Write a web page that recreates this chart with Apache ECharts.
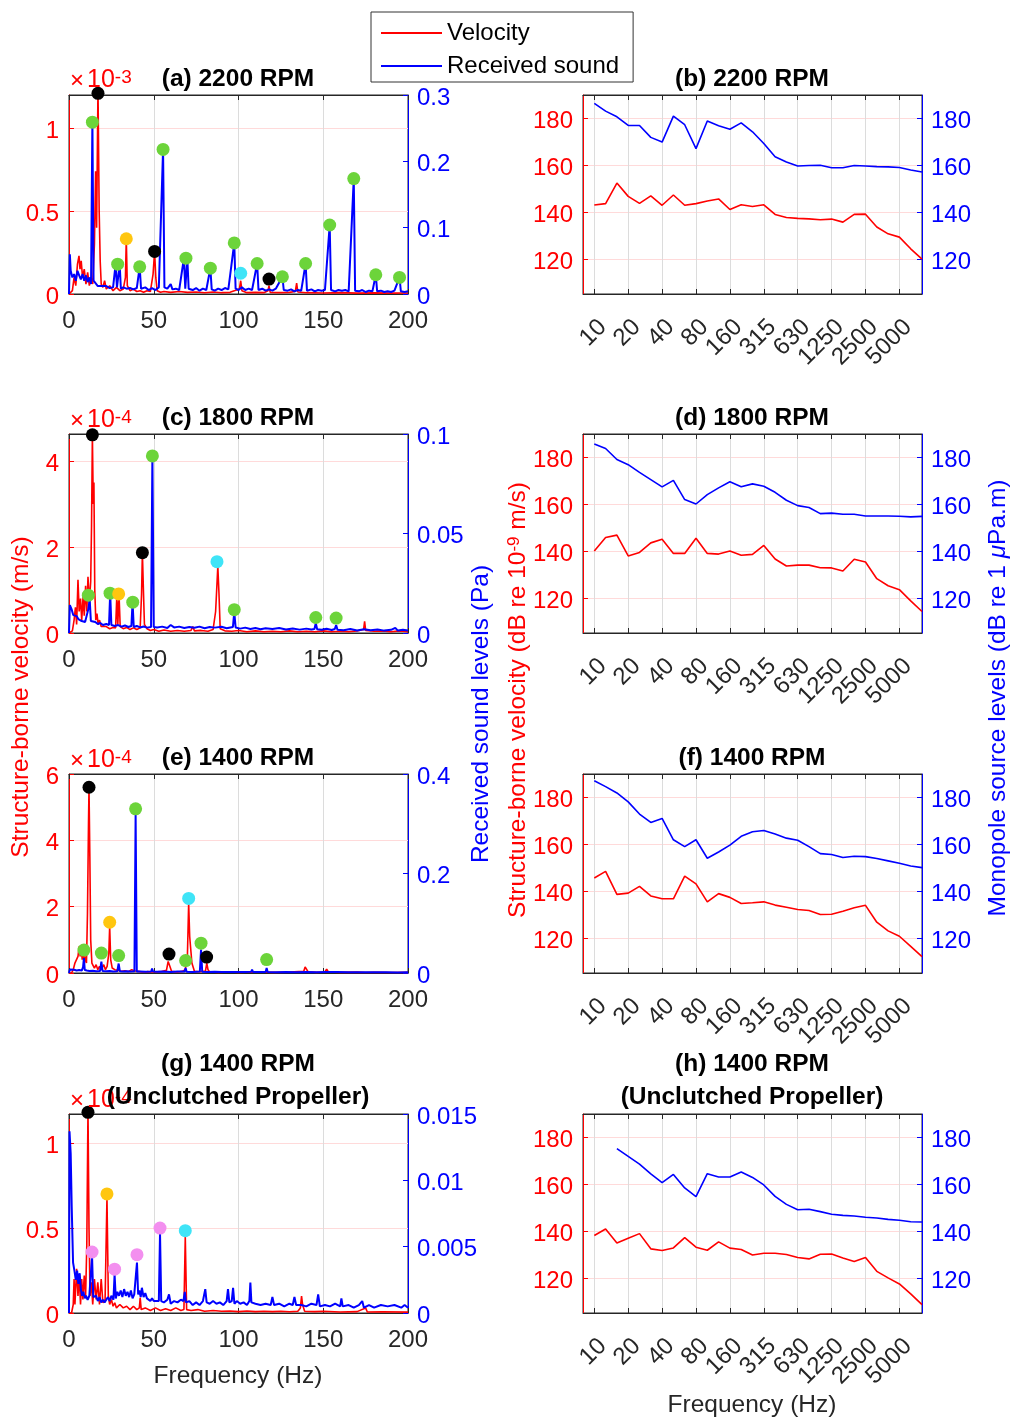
<!DOCTYPE html>
<html><head><meta charset="utf-8">
<script src="https://cdn.jsdelivr.net/npm/echarts@6/dist/echarts.min.js"></script>
<style>html,body{margin:0;padding:0;background:#fff}#c{width:1012px;height:1420px}</style>
</head><body><div id="c"></div>
<script>
// ---------------- DATA ----------------
// Third-octave band centre frequencies (first entry is the axis pad band)
const bandLabels = ['8','10','12.5','16','20','25','31.5','40','50','63','80','100','125','160','200','250','315','400','500','630','800','1000','1250','1600','2000','2500','3150','4000','5000','6300','8000'];
const dbTicks = [120,140,160,180];
const dbMin = 105, dbMax = 190;
const freqTicks = [0,50,100,150,200];

// Band levels (dB), 10 Hz .. 8000 Hz
const bVel = [143,143.6,152.4,146.7,143.7,146.9,142.9,147.3,142.9,143.6,144.7,145.6,141.1,143.1,142.4,143.1,139,137.7,137.3,137.1,136.7,137,135.7,139,139.1,133.6,130.7,129.3,124.3,119.9];
const bSnd = [186.4,183.1,180.7,177,177,171.9,169.9,181,177.3,167.1,178.9,176.9,175.4,178.1,174.3,169.3,163.6,161.4,159.7,159.9,160,158.9,158.9,159.9,159.7,159.4,159.3,159,158,157.1];
const dVel = [140,145.8,146.8,137.9,139.4,143.5,145,139,139,145.5,139,138.7,140,138.2,138.6,142.4,136.6,133.6,134,134,132.9,132.8,131.5,136.5,135.3,128.2,125.2,123.5,118.7,114.2];
const dSnd = [185.7,183.8,179.1,176.9,173.6,170.5,167.4,170.2,162,160.1,164.1,167,169.6,167.5,168.7,167.7,165.1,161.7,159.4,158.6,156,156.2,155.7,155.7,155,155,155,154.9,154.6,154.8];
const fVel = [145.6,148.4,138.6,139.1,142,137.9,136.7,136.7,146.4,143.1,135.4,138.9,137.3,134.7,135,135.4,134,133.1,132.1,131.7,130,130.1,131.4,132.9,133.9,126.7,123,120.7,116.4,112];
const fSnd = [187.1,184.6,181.9,178.1,172.9,169.3,171,161.9,159,161.9,154,156.7,159.6,163.4,165.3,165.9,164.4,162.6,161.7,159,156,155.6,154.3,154.9,154.7,153.9,152.9,151.9,150.7,150];
const hVel = [138.1,140.9,134.9,136.9,138.9,132.4,131.7,132.8,137.2,133.1,131.8,135.4,132.7,132.1,129.8,130.5,130.5,130,128.7,128.1,130.1,130.2,128.5,127,128.7,122.8,120,117.4,113.2,108.6];
const hSnd = [null,null,175.2,171.9,168.6,164.4,160.7,164.2,158.4,154.7,164.5,163.1,163.1,165.2,162.9,159.7,154.8,151.4,149.1,149.3,148.3,147.2,146.7,146.4,145.9,145.6,145,144.6,144,143.9];

// (a) 2200 RPM spectra: [Hz, velocity x1e-3 m/s], [Hz, Pa]
const aVelTicks = [0,0.5,1], aVelMax = 1.2;
const aSndTicks = [0,0.1,0.2,0.3], aSndMax = 0.3;
const aVel = [[0,0],[1,0],[2,0.02],[3,0.1],[4,0.05],[5,0.18],[5.9,0.23],[6.5,0.15],[7.2,0.2],[8,0.1],[9,0.15],[10,0.06],[11,0.13],[12,0.05],[13,0.1],[14,0.06],[15,0.3],[15.7,0.74],[16.3,0.4],[17.1,1.25],[17.8,0.5],[18.4,0.2],[19,0.06],[20,0.04],[21,0.08],[22,0.03],[24,0.05],[26,0.02],[28,0.04],[30,0.02],[32,0.03],[33.3,0.1],[33.8,0.333],[34.4,0.05],[36,0.02],[38,0.03],[40,0.015],[42,0.02],[44,0.01],[46,0.02],[48,0.015],[49.6,0.12],[50.5,0.257],[51.2,0.1],[52,0.02],[54,0.01],[56,0.015],[60,0.01],[65,0.015],[70,0.01],[75,0.012],[80,0.008],[85,0.012],[90,0.008],[95,0.01],[100.5,0.03],[101.3,0.08],[102,0.02],[105,0.008],[110,0.01],[115,0.008],[117.4,0.02],[118,0.05],[118.7,0.01],[125,0.008],[130,0.01],[133.5,0.015],[134.3,0.065],[135,0.012],[140,0.008],[150,0.006],[160,0.008],[170,0.005],[180,0.007],[190,0.005],[200,0.006]];
const aSnd = [[0,0],[0.5,0.06],[1,0.035],[2,0.025],[3,0.03],[4,0.02],[5,0.035],[6,0.028],[7,0.022],[8,0.03],[9,0.02],[10,0.028],[11,0.018],[12,0.025],[13,0.015],[13.8,0.262],[14.5,0.02],[15.5,0.018],[17,0.012],[18,0.015],[19,0.012],[20,0.01],[22,0.012],[24,0.009],[26,0.01],[27.5,0.045],[28.3,0.01],[29.9,0.045],[30.6,0.008],[32,0.01],[34,0.008],[36,0.009],[38,0.007],[40,0.009],[41.7,0.041],[42.5,0.008],[45,0.01],[47,0.006],[49,0.009],[51,0.006],[53,0.01],[55.5,0.218],[56.3,0.01],[58,0.008],[60,0.015],[61,0.007],[63,0.008],[65,0.006],[67.8,0.054],[68.6,0.008],[69.8,0.054],[70.6,0.008],[73,0.006],[75,0.009],[77,0.005],[79,0.008],[81,0.006],[83.4,0.039],[84.2,0.007],[86,0.005],[88,0.008],[90,0.006],[92,0.009],[94,0.007],[97.5,0.077],[98.3,0.008],[100,0.006],[102,0.01],[104,0.006],[106,0.008],[108,0.006],[111,0.046],[111.8,0.006],[114,0.008],[116,0.005],[118,0.007],[120,0.005],[122,0.008],[125.9,0.026],[126.7,0.006],[129,0.005],[131,0.007],[133,0.004],[135,0.006],[137,0.005],[139.6,0.046],[140.4,0.005],[143,0.007],[145,0.004],[147,0.006],[149,0.005],[151,0.006],[153.8,0.104],[154.6,0.006],[157,0.004],[159,0.006],[161,0.005],[163,0.006],[165,0.004],[168,0.174],[168.8,0.005],[171,0.004],[173,0.006],[175,0.003],[177,0.005],[179,0.004],[181,0.029],[181.8,0.004],[184,0.005],[186,0.003],[188,0.004],[190,0.003],[192,0.005],[195,0.025],[195.8,0.004],[198,0.003],[200,0.004]];
const aGreen = [[13.8,0.259],[28.7,0.045],[41.7,0.041],[55.5,0.218],[69,0.054],[83.4,0.039],[97.5,0.077],[111,0.046],[125.9,0.026],[139.6,0.046],[153.8,0.104],[168,0.174],[181,0.029],[195,0.025]];
const aBlack = [[17.1,1.21],[50.5,0.257],[118,0.09]];
const aYellow = [[33.8,0.333]];
const aCyan = [[101.3,0.125]];

// (c) 1800 RPM: velocity x1e-4 m/s
const cVelTicks = [0,2,4], cVelMax = 4.63;
const cSndTicks = [0,0.05,0.1], cSndMax = 0.1;
const cVel = [[0,0],[1,0],[2,0.05],[3,0.3],[3.8,0.6],[4.5,0.2],[5.3,1.24],[6,0.5],[6.8,0.8],[7.5,0.3],[8.3,0.85],[9,0.4],[9.8,1.1],[10.5,0.5],[11.2,1.31],[12,0.7],[12.8,1.2],[13.3,2.5],[13.8,4.61],[14.3,3.0],[14.7,3.5],[15.2,1.0],[15.8,0.3],[16.5,0.45],[17.2,0.2],[18,0.3],[19,0.15],[20,0.12],[22,0.15],[24,0.1],[26,0.13],[27.5,0.12],[28.2,0.85],[28.8,0.2],[29.5,0.91],[30.2,0.15],[32,0.1],[34,0.13],[36,0.08],[38,0.12],[40,0.08],[42,0.12],[42.8,0.9],[43.3,1.87],[43.9,1.0],[44.5,0.2],[46,0.1],[48,0.06],[50,0.08],[53,0.04],[56,0.07],[60,0.04],[64,0.06],[68,0.04],[72,0.06],[73,0.15],[74,0.05],[78,0.06],[82,0.04],[85,0.08],[86.5,0.5],[87,0.9],[87.8,1.55],[88.5,0.9],[89.2,0.1],[92,0.05],[96,0.04],[100,0.06],[105,0.03],[110,0.05],[115,0.03],[120,0.04],[125,0.03],[130,0.05],[135,0.03],[140,0.04],[145,0.03],[150,0.05],[155,0.03],[160,0.04],[165,0.03],[170,0.05],[173.8,0.08],[174.4,0.27],[175,0.06],[180,0.04],[185,0.05],[190,0.03],[195,0.05],[200,0.03]];
const cSnd = [[0,0],[0.5,0.014],[1.5,0.012],[2.5,0.009],[3.5,0.008],[4.5,0.0085],[5.5,0.007],[6.5,0.0075],[7.5,0.006],[8.5,0.0065],[9.5,0.0055],[10.5,0.006],[11.4,0.012],[12.2,0.017],[12.9,0.006],[14,0.005],[15.5,0.0055],[17,0.0045],[18.5,0.005],[20,0.004],[22,0.0045],[23.6,0.004],[24.3,0.02],[25,0.004],[27,0.0035],[29,0.004],[31,0.0032],[33,0.0038],[35,0.003],[36.8,0.0035],[37.5,0.0155],[38.2,0.003],[40,0.0035],[42,0.0028],[44,0.0033],[46,0.0027],[48.4,0.003],[49.2,0.089],[50,0.003],[52,0.0028],[55,0.0032],[58,0.0025],[60,0.004],[62,0.0028],[65,0.0032],[68,0.0025],[71,0.003],[74,0.0026],[77,0.0032],[80,0.0024],[83,0.003],[86,0.0027],[90,0.0031],[93,0.0024],[96.7,0.003],[97.5,0.0105],[98.3,0.0028],[101,0.0022],[104,0.0027],[107,0.002],[110,0.0025],[113,0.0019],[116,0.0024],[120,0.002],[124,0.0025],[128,0.0018],[132,0.0023],[136,0.0017],[140,0.0022],[143,0.0018],[144.8,0.002],[145.6,0.005],[146.4,0.0019],[149,0.0016],[152,0.0021],[155,0.0015],[156.8,0.002],[157.6,0.004],[158.4,0.0016],[162,0.0014],[166,0.002],[170,0.0013],[174,0.0019],[178,0.0014],[182,0.0018],[186,0.0012],[190,0.0016],[192.5,0.0026],[194,0.0012],[197,0.0016],[200,0.0012]];
const cGreen = [[11.4,0.019],[24.2,0.02],[37.6,0.0155],[49.2,0.089],[97.5,0.0117],[145.6,0.0078],[157.6,0.0075]];
const cBlack = [[13.8,4.61],[43.3,1.87]];
const cYellow = [[29.3,0.91]];
const cCyan = [[87.3,1.66]];

// (e) 1400 RPM: velocity x1e-4 m/s
const eVelTicks = [0,2,4,6], eVelMax = 6;
const eSndTicks = [0,0.2,0.4], eSndMax = 0.4;
const eVel = [[0,0],[1.5,0],[2.5,0.1],[3.5,0.3],[4.5,0.25],[5.3,0.5],[6,0.8],[6.6,0.5],[7.2,0.75],[7.8,0.4],[8.4,0.65],[9,0.3],[9.6,0.5],[10.3,0.3],[10.9,1.8],[11.5,4.5],[11.8,5.6],[12.3,3.5],[12.8,1.0],[13.5,0.3],[14.2,0.35],[15,0.15],[16,0.25],[17,0.1],[18,0.2],[19,0.1],[20.5,0.25],[21.5,0.1],[22.5,0.2],[23.5,0.6],[24,1.4],[24.6,0.4],[25.5,0.15],[27,0.1],[29,0.08],[31,0.05],[33,0.07],[35,0.04],[37,0.1],[39,0.06],[41,0.05],[43,0.03],[46,0.04],[50,0.03],[54,0.04],[57.5,0.08],[58.5,0.35],[59.5,0.2],[60.5,0.05],[64,0.03],[67,0.05],[68.5,0.1],[69.8,0.4],[70.6,2.1],[71.2,1.1],[71.8,1.05],[72.5,0.3],[74,0.05],[77,0.04],[80.5,0.06],[81.3,0.3],[82,0.1],[83,0.03],[88,0.02],[95,0.03],[100,0.02],[110,0.03],[120,0.02],[130,0.025],[138.5,0.05],[139.3,0.18],[140,0.15],[141,0.04],[146,0.02],[151,0.03],[152,0.12],[153,0.03],[160,0.02],[170,0.025],[175,0.015],[180,0.02],[190,0.015],[200,0.02]];
const eSnd = [[0,0],[0.5,0.007],[1.5,0.006],[3,0.0065],[4.5,0.005],[6,0.006],[7.5,0.005],[8.3,0.012],[8.8,0.03],[9.3,0.006],[10.5,0.005],[12,0.004],[14,0.0045],[16,0.0035],[18.3,0.004],[19.1,0.023],[19.8,0.004],[22,0.0035],[24,0.004],[26,0.003],[28.5,0.0035],[29.3,0.019],[30,0.0035],[32,0.003],[34,0.0035],[36,0.003],[38.6,0.0035],[39.3,0.318],[40,0.003],[42,0.003],[45,0.0025],[48.5,0.003],[49,0.009],[49.6,0.003],[52,0.0025],[56,0.003],[60,0.0022],[64,0.0028],[68.2,0.003],[68.8,0.01],[69.4,0.0025],[73,0.0022],[77.2,0.003],[77.9,0.047],[78.6,0.0025],[82,0.002],[86,0.0025],[90,0.0018],[95,0.0022],[100,0.0018],[104,0.0022],[107.5,0.0025],[108,0.007],[108.6,0.002],[112,0.0018],[116,0.002],[116.6,0.01],[117.2,0.0018],[122,0.0016],[128,0.002],[134,0.0015],[140,0.0018],[146,0.0014],[152,0.0018],[158,0.002],[158.5,0.0045],[159,0.0015],[165,0.0014],[172,0.0017],[180,0.0013],[187,0.0016],[194,0.0012],[200,0.0014]];
const eGreen = [[8.8,0.046],[19.1,0.04],[29.3,0.035],[39.3,0.33],[68.8,0.025],[77.9,0.06],[116.6,0.027]];
const eBlack = [[11.8,5.6],[59,0.57],[81.2,0.48]];
const eYellow = [[24,1.53]];
const eCyan = [[70.6,2.25]];

// (g) 1400 RPM unclutched: velocity x1e-4 m/s
const gVelTicks = [0,0.5,1], gVelMax = 1.17;
const gSndTicks = [0,0.005,0.01,0.015], gSndMax = 0.015;
const gVel = [[0,0],[1.5,0],[2.5,0.05],[3,0.2],[3.5,0.05],[4.5,0.26],[5.3,0.1],[6,0.22],[6.8,0.05],[7.5,0.2],[8.2,0.08],[9,0.22],[9.8,0.1],[10.5,0.4],[11.2,1.2],[11.8,0.5],[12.4,0.1],[13.2,0.18],[14,0.05],[15,0.2],[16,0.08],[17,0.18],[18,0.05],[19,0.2],[20,0.06],[21.3,0.08],[22.4,0.68],[23.2,0.1],[24,0.05],[25,0.08],[26,0.04],[27,0.06],[28,0.03],[30,0.05],[32,0.03],[34,0.04],[36,0.02],[38,0.04],[40,0.02],[41.5,0.03],[42,0.09],[42.6,0.02],[45,0.03],[48,0.015],[51,0.03],[54,0.015],[57,0.025],[60,0.015],[63,0.03],[66,0.015],[67.8,0.02],[68.6,0.45],[69.4,0.02],[72,0.015],[76,0.02],[80,0.01],[85,0.015],[90,0.01],[95,0.012],[100,0.008],[105,0.012],[110,0.008],[115,0.01],[120,0.008],[125,0.01],[130,0.007],[135,0.01],[136.5,0.03],[137.2,0.1],[137.8,0.05],[139,0.01],[145,0.008],[150,0.01],[160,0.006],[170,0.008],[175,0.03],[176,0.006],[185,0.007],[200,0.005]];
const gSnd = [[0,0],[0.3,0.0137],[1,0.012],[1.6,0.008],[2.4,0.0038],[3.2,0.0032],[4,0.0025],[4.8,0.0032],[5.5,0.0022],[6.3,0.003],[7,0.0018],[7.7,0.0013],[8.5,0.0016],[9.3,0.0011],[10,0.0013],[11,0.001],[12,0.0013],[12.9,0.0012],[13.6,0.0043],[14.3,0.0012],[15.2,0.0011],[16,0.0013],[17,0.0009],[18,0.0012],[19,0.0008],[20,0.001],[21,0.0008],[22,0.0009],[23,0.0012],[24,0.0009],[25,0.0013],[26.2,0.001],[26.9,0.0029],[27.6,0.0011],[28.5,0.0016],[29.5,0.0013],[30.5,0.0017],[31.5,0.0012],[32.5,0.0018],[33.5,0.0013],[34.5,0.0016],[35.5,0.0012],[36.5,0.0017],[37.5,0.0011],[38.5,0.0014],[39.4,0.0013],[40.1,0.0038],[40.8,0.0014],[41.5,0.0017],[42.3,0.0012],[43,0.0019],[44,0.0012],[45,0.0015],[46,0.0011],[47,0.0012],[48,0.0009],[49,0.0011],[50,0.0009],[51,0.001],[53,0.0009],[53.7,0.006],[54.4,0.0009],[56,0.0008],[58,0.001],[59,0.0014],[60,0.0007],[62,0.0009],[64,0.0008],[66,0.001],[67.5,0.0009],[68.3,0.0016],[69,0.0008],[71,0.0009],[73,0.0006],[75,0.0008],[77,0.0006],[79,0.0009],[80.4,0.0018],[81.2,0.0008],[83,0.0007],[85,0.0009],[87,0.0007],[89,0.0008],[91,0.0006],[93,0.0009],[93.8,0.0018],[94.6,0.0008],[96,0.0009],[96.8,0.0019],[97.6,0.0007],[99,0.0009],[101,0.0007],[103,0.0008],[105,0.0006],[106.4,0.0009],[107,0.0023],[107.6,0.0008],[110,0.0007],[113,0.0006],[116,0.0007],[119,0.0006],[120,0.0012],[121,0.0006],[124,0.0007],[127,0.0005],[130,0.0007],[132,0.0006],[133,0.0012],[134,0.0006],[137,0.0006],[140,0.0005],[143,0.0007],[146,0.0006],[147,0.0014],[148,0.0005],[151,0.0006],[154,0.0005],[157,0.0007],[160,0.0005],[160.7,0.0011],[161.5,0.0005],[165,0.0006],[168,0.0004],[171,0.0006],[173,0.0009],[174,0.0004],[177,0.0006],[180,0.0004],[184,0.0006],[188,0.0005],[192,0.0006],[196,0.0004],[198,0.0006],[200,0.0004]];
const gPink = [[13.6,0.0046],[26.9,0.0033],[40.1,0.0044],[53.7,0.0064]];
const gBlack = [[11.2,1.18]];
const gYellow = [[22.4,0.7]];
const gCyan = [[68.6,0.484]];

// ---------------- CHART ----------------
const FONT = '"Liberation Sans", Arial, Helvetica, sans-serif';
const RED = '#FF0000', BLUE = '#0000FF', AX = '#262626';
const GREEN = '#6CD43A', YELLOW = '#FFC60F', CYAN = '#3FE4F7', PINK = '#F38FEF', BLACK = '#000000';
const LEFT_X = 69, RIGHT_X = 583, PW = 339, PH = 199, TOPS = [95, 434, 774, 1114];
const TICK_FS = 24;

const grid = [], xAxis = [], yAxis = [], series = [];

function yAx(gi, color, min, max, ticks, split, pos) {
  return {
    gridIndex: gi, type: 'value', position: pos, min: min, max: max,
    axisLine: {show: true, onZero: false, lineStyle: {color: color, width: 1}},
    axisTick: {show: true, inside: true, length: 5, customValues: ticks, lineStyle: {color: color}},
    axisLabel: {show: true, color: color, fontSize: TICK_FS, fontFamily: FONT, margin: pos === 'left' ? 10 : 9, customValues: ticks,
      formatter: function (v) { return '{v|' + v + '}'; },
      rich: {v: {color: color, fontSize: TICK_FS, fontFamily: FONT, padding: [6, 0, 0, 0]}}},
    splitLine: {show: split, customValues: ticks, lineStyle: {color: '#FFDADA', width: 1}}
  };
}
function addGrid(x, row) {
  grid.push({left: x, top: TOPS[row], width: PW, height: PH, show: true, borderColor: AX, borderWidth: 1, backgroundColor: 'rgba(0,0,0,0)'});
  return grid.length - 1;
}
function addLeft(row, vel, snd, velMax, velTicks, sndMax, sndTicks, dots) {
  const gi = addGrid(LEFT_X, row);
  const xi = xAxis.length;
  xAxis.push({gridIndex: gi, type: 'value', position: 'bottom', min: 0, max: 200, interval: 50,
    axisLine: {show: true, onZero: false, lineStyle: {color: AX}},
    axisTick: {show: true, inside: true, length: 5, customValues: freqTicks, lineStyle: {color: AX}},
    axisLabel: {color: AX, fontSize: TICK_FS, fontFamily: FONT, margin: 15, customValues: freqTicks},
    splitLine: {show: true, customValues: freqTicks, lineStyle: {color: '#DCDCDC'}}});
  xAxis.push({gridIndex: gi, type: 'value', position: 'top', min: 0, max: 200, interval: 50,
    axisLine: {show: true, onZero: false, lineStyle: {color: AX}},
    axisTick: {show: true, inside: true, length: 5, customValues: freqTicks, lineStyle: {color: AX}},
    axisLabel: {show: false}, splitLine: {show: false}});
  const yi = yAxis.length;
  yAxis.push(yAx(gi, RED, 0, velMax, velTicks, true, 'left'));
  yAxis.push(yAx(gi, BLUE, 0, sndMax, sndTicks, false, 'right'));
  series.push({type: 'line', name: 'Velocity', xAxisIndex: xi, yAxisIndex: yi, data: vel, symbol: 'none', clip: true,
    lineStyle: {color: RED, width: 1.6}, itemStyle: {color: RED}, z: 2});
  series.push({type: 'line', name: 'Received sound', xAxisIndex: xi, yAxisIndex: yi + 1, data: snd, symbol: 'none', clip: true,
    lineStyle: {color: BLUE, width: 2}, itemStyle: {color: BLUE}, z: 3});
  dots.forEach(function (d) {
    series.push({type: 'scatter', name: 'peak', xAxisIndex: xi, yAxisIndex: d.snd ? yi + 1 : yi, data: d.data,
      symbolSize: 13, clip: false, itemStyle: {color: d.color, opacity: 1}, z: 5});
  });
}
const showBand = function (i) { return i % 3 === 1; };
function addRight(row, vel, snd) {
  const gi = addGrid(RIGHT_X, row);
  const xi = xAxis.length;
  xAxis.push({gridIndex: gi, type: 'category', position: 'bottom', data: bandLabels, boundaryGap: false,
    axisLine: {show: true, onZero: false, lineStyle: {color: AX}},
    axisTick: {show: true, inside: true, length: 5, interval: showBand, lineStyle: {color: AX}},
    axisLabel: {interval: showBand, rotate: 45, align: 'right', verticalAlign: 'top', color: AX, fontSize: TICK_FS, fontFamily: FONT, margin: 21},
    splitLine: {show: true, interval: showBand, lineStyle: {color: '#DCDCDC'}}});
  xAxis.push({gridIndex: gi, type: 'category', position: 'top', data: bandLabels, boundaryGap: false,
    axisLine: {show: true, onZero: false, lineStyle: {color: AX}},
    axisTick: {show: true, inside: true, length: 5, interval: showBand, lineStyle: {color: AX}},
    axisLabel: {show: false}, splitLine: {show: false}});
  const yi = yAxis.length;
  yAxis.push(yAx(gi, RED, dbMin, dbMax, dbTicks, true, 'left'));
  yAxis.push(yAx(gi, BLUE, dbMin, dbMax, dbTicks, false, 'right'));
  series.push({type: 'line', name: 'Velocity', xAxisIndex: xi, yAxisIndex: yi, data: [null].concat(vel), symbol: 'none',
    lineStyle: {color: RED, width: 1.6}, itemStyle: {color: RED}, z: 2});
  series.push({type: 'line', name: 'Received sound', xAxisIndex: xi, yAxisIndex: yi + 1, data: [null].concat(snd), symbol: 'none',
    lineStyle: {color: BLUE, width: 1.6}, itemStyle: {color: BLUE}, z: 3});
}

addLeft(0, aVel, aSnd, aVelMax, aVelTicks, aSndMax, aSndTicks, [
  {data: aGreen, color: GREEN, snd: true}, {data: aBlack, color: BLACK}, {data: aYellow, color: YELLOW}, {data: aCyan, color: CYAN}]);
addRight(0, bVel, bSnd);
addLeft(1, cVel, cSnd, cVelMax, cVelTicks, cSndMax, cSndTicks, [
  {data: cGreen, color: GREEN, snd: true}, {data: cBlack, color: BLACK}, {data: cYellow, color: YELLOW}, {data: cCyan, color: CYAN}]);
addRight(1, dVel, dSnd);
addLeft(2, eVel, eSnd, eVelMax, eVelTicks, eSndMax, eSndTicks, [
  {data: eGreen, color: GREEN, snd: true}, {data: eBlack, color: BLACK}, {data: eYellow, color: YELLOW}, {data: eCyan, color: CYAN}]);
addRight(2, fVel, fSnd);
addLeft(3, gVel, gSnd, gVelMax, gVelTicks, gSndMax, gSndTicks, [
  {data: gPink, color: PINK, snd: true}, {data: gBlack, color: BLACK}, {data: gYellow, color: YELLOW}, {data: gCyan, color: CYAN}]);
addRight(3, hVel, hSnd);

// ---- text overlays ----
const graphic = [];
function txt(x, y, text, opts) {
  graphic.push(Object.assign({type: 'text', x: x, y: y, z: 100, style: Object.assign({
    text: text, fill: '#000', fontSize: 24.5, fontFamily: FONT, align: 'center', verticalAlign: 'middle'}, opts || {})}));
}
const titles = [
  ['(a) 2200 RPM', 238, 79], ['(b) 2200 RPM', 752, 79],
  ['(c) 1800 RPM', 238, 418], ['(d) 1800 RPM', 752, 418],
  ['(e) 1400 RPM', 238, 758], ['(f) 1400 RPM', 752, 758],
  ['(g) 1400 RPM', 238, 1064], ['(Unclutched Propeller)', 238, 1097],
  ['(h) 1400 RPM', 752, 1064], ['(Unclutched Propeller)', 752, 1097]
];
titles.forEach(function (t) { txt(t[1], t[2], t[0], {fontWeight: 'bold'}); });

// exponent labels
[['-3', 93], ['-4', 433], ['-4', 773], ['-4', 1113]].forEach(function (e) {
  graphic.push({type: 'text', x: 70, y: e[1], z: 90, style: {text: '{x|×}{a|10}{b|' + e[0] + '}', align: 'left', verticalAlign: 'bottom',
    rich: {x: {fontSize: 24, fontFamily: FONT, fill: RED, verticalAlign: 'bottom', padding: [0, 3, 0, 0]},
           a: {fontSize: 25, fontFamily: FONT, fill: RED, verticalAlign: 'bottom'},
           b: {fontSize: 19, fontFamily: FONT, fill: RED, verticalAlign: 'top'}}}});
});

// axis names
function vtxt(x, y, text, color, rich) {
  graphic.push({type: 'text', x: x, y: y, rotation: Math.PI / 2, z: 100, style: {text: text, fill: color, fontSize: 24.5, fontFamily: FONT,
    align: 'center', verticalAlign: 'middle', rich: rich}});
}
vtxt(21, 697, 'Structure-borne velocity (m/s)', RED);
vtxt(481, 714, 'Received sound levels (Pa)', BLUE);
vtxt(518, 700, '{n|Structure-borne velocity (dB re 10}{s|-9}{n| m/s)}', RED,
  {n: {fontSize: 24.5, fontFamily: FONT, fill: RED, verticalAlign: 'bottom'}, s: {fontSize: 17, fontFamily: FONT, fill: RED, verticalAlign: 'top'}});
vtxt(998, 698, '{n|Monopole source levels (dB re 1 }{m|μ}{n|Pa.m)}', BLUE,
  {n: {fontSize: 24.5, fontFamily: FONT, fill: BLUE}, m: {fontSize: 24.5, fontFamily: FONT, fill: BLUE, fontStyle: 'italic'}});

txt(238, 1376, 'Frequency (Hz)', {fill: AX});
txt(752, 1405, 'Frequency (Hz)', {fill: AX});

const chart = echarts.init(document.getElementById('c'), null, {renderer: 'canvas'});
chart.setOption({
  animation: false,
  backgroundColor: '#fff',
  textStyle: {fontFamily: FONT},
  legend: {orient: 'vertical', left: 371, top: 12, padding: [9, 14, 4, 10], itemGap: 9, itemWidth: 61, itemHeight: 2, icon: 'rect',
    borderColor: '#333', borderWidth: 1, backgroundColor: '#fff', selectedMode: false,
    textStyle: {fontSize: 24, fontFamily: FONT, color: '#000'}, data: ['Velocity', 'Received sound']},
  grid: grid, xAxis: xAxis, yAxis: yAxis, series: series, graphic: graphic
});
</script></body></html>
